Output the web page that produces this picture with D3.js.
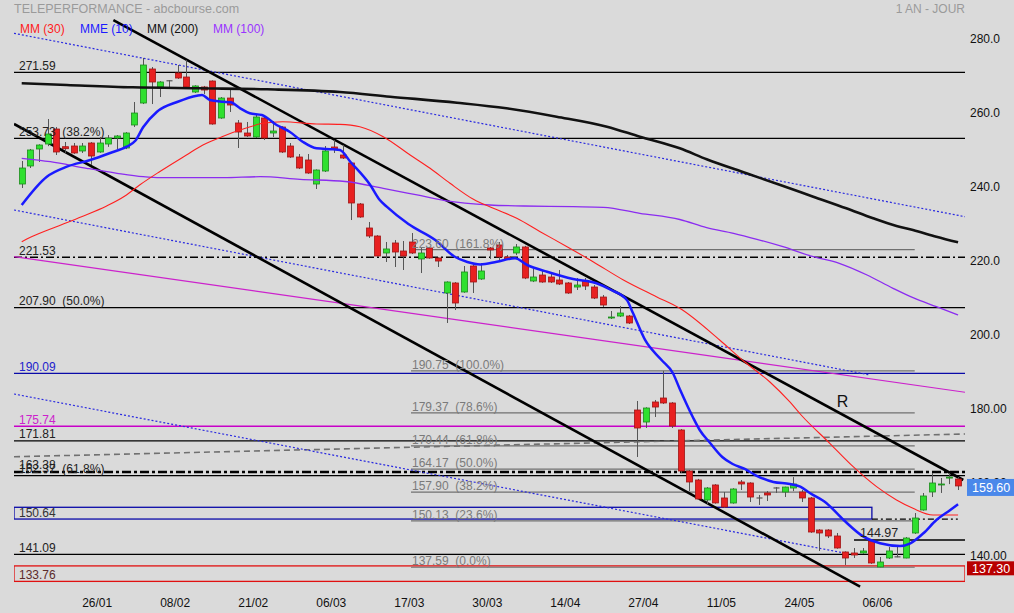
<!DOCTYPE html>
<html><head><meta charset="utf-8">
<script src="https://cdn.jsdelivr.net/npm/d3@7"></script>
<style>
body{margin:0;background:#dadada;}
svg{display:block;font-family:Arial,"Liberation Sans",sans-serif;}
text{white-space:pre;}
</style>
</head><body>
<svg id="c" width="1014" height="613"></svg>
<script>
// ---------- DATA ----------
const tickIndex  = [8,17,26,35,44,53,62,71,80,89,98];
const tickLabels = ["26/01","08/02","21/02","06/03","17/03","30/03","14/04","27/04","11/05","24/05","06/06"];
const axisTicks  = [280,260,240,220,200,180,160,140];
const axisLabels = ["280.0","260.0","240.0","220.0","200.0","180.00","160.00","140.00"];

const open  = [241.35,246.23,250.83,252.18,256.24,251.45,251.64,250.29,252.45,250.02,252.18,253.8,251.1,257.33,263.28,272.49,267.62,269.2,271.41,270.32,266.26,267.62,269.24,259.22,264.63,257.87,255.16,254.08,259.22,255.16,256.78,251.64,248.66,247.85,241.35,244.87,251.37,249.2,247.04,235.94,229.44,227.27,222.67,225.38,223.21,225.65,221.05,224.03,221.32,211.84,214.55,212.11,219.15,215.63,224.03,224.84,221.59,222.67,224.3,215.09,216.71,216.17,215.36,214.55,213.46,215.09,213.46,210.75,205.07,205.61,205.61,180.16,176.91,182.33,183.41,182.06,174.75,163.65,161.21,155.8,159.86,156.34,154.98,160.67,160.4,156.3,157.7,159.0,157.96,159.04,157.96,156.34,147.67,147.67,146.05,141.72,141.45,141.45,144.69,137.66,140.09,140.36,140.09,146.86,153.09,157.96,159.86,161.75,161.48];
const high  = [247.58,250.83,252.1,258.95,256.78,252.72,252.45,252.45,252.7,254.08,254.6,254.6,255.4,263.55,275.47,273.03,269.2,269.5,273.57,274.92,268.1,267.9,269.4,264.9,267.35,258.68,258.14,260.03,260.03,258.4,257.0,252.45,249.47,249.47,245.3,251.64,253.26,251.91,247.3,236.2,231.06,227.5,225.65,226.19,225.92,228.08,224.03,224.3,221.5,215.0,214.8,219.15,219.4,219.96,224.3,225.65,222.13,225.1,224.6,218.34,218.07,217.25,218.07,214.8,215.9,215.9,214.0,211.3,206.96,208.3,205.9,182.6,180.9,182.87,190.75,182.3,175.0,163.9,161.5,159.3,160.1,157.96,159.0,161.21,160.6,157.15,158.23,159.3,159.4,162.0,158.5,156.6,147.9,147.9,146.86,141.9,142.8,142.8,144.97,140.36,143.07,143.34,145.77,152.27,157.69,163.1,161.75,163.1,162.0];
const low   = [240.27,245.68,247.31,251.6,249.2,249.75,249.5,249.75,246.5,249.8,251.4,250.83,250.8,256.78,263.0,263.0,264.9,267.3,269.8,267.4,266.0,265.7,257.4,259.0,260.85,251.1,254.08,253.8,253.26,254.08,249.75,248.4,245.4,244.1,240.0,244.6,249.75,248.12,231.6,232.2,226.73,221.6,220.23,218.88,218.07,222.4,217.25,221.1,218.88,203.72,207.23,211.9,211.84,215.4,221.05,220.23,220.8,222.1,215.6,214.8,214.6,214.55,214.0,211.6,212.65,212.65,210.2,208.05,204.8,205.34,203.45,167.44,175.29,178.27,181.8,175.29,163.1,158.23,155.8,154.7,154.8,153.63,154.8,158.5,155.25,154.45,155.52,157.7,156.6,158.2,155.25,146.9,141.99,145.5,142.6,138.2,140.09,141.2,138.5,137.59,139.82,140.3,140.0,146.6,152.9,156.6,157.7,160.1,158.5];
const close = [245.68,250.56,251.91,254.89,250.02,250.91,249.75,251.64,248.93,252.45,253.8,254.35,255.16,260.57,273.57,268.97,268.97,269.3,270.05,267.62,267.89,266.8,257.6,264.63,262.74,255.43,254.35,259.49,253.8,255.7,250.02,248.66,245.68,244.33,245.14,250.29,250.83,248.39,236.21,232.42,227.27,221.86,223.76,222.94,221.86,222.67,222.67,221.32,220.5,214.82,209.13,217.53,214.82,217.8,223.48,221.59,221.05,224.3,215.9,216.17,214.82,214.82,214.28,211.84,214.0,213.73,210.48,208.59,205.34,206.42,203.72,175.29,180.7,180.97,182.06,175.83,163.65,160.67,156.07,159.04,155.0,153.9,158.77,160.13,156.6,156.34,157.15,159.05,159.3,160.13,156.34,147.13,146.86,146.05,142.8,140.09,140.9,141.99,138.74,139.01,141.99,140.4,145.5,150.92,156.88,160.4,160.13,162.0,159.6];

// moving averages: [day index, value]
const mme10 = [[0,235.67],[2.9,243.33],[5.2,246.04],[7.9,247.85],[10.2,249.75],[12.1,251.45],[13.1,253.05],[14,256.7],[15.6,260.93],[18,263.63],[20.2,265.26],[20.8,265.45],[21.7,264.1],[23.2,263.63],[24.1,263.47],[25.2,261.85],[26.3,260.5],[27.7,260.03],[29.4,257.33],[30.9,255.51],[32.4,252.8],[34,251.02],[35.9,250.75],[36.7,250.56],[37.9,247.39],[40.2,241.08],[41.3,237.02],[42.1,235.21],[44.6,230.5],[47.7,226.19],[49.9,221.72],[51.4,220.23],[52.9,219.56],[54.8,220.3],[56.9,221.23],[58.3,219.42],[60.6,217.6],[63.6,215.63],[66.3,214.47],[68,212.65],[69.8,209.94],[70.5,206.42],[71.9,199.12],[73.8,193.7],[75.1,190.18],[75.9,185.85],[77.4,178.27],[78.2,174.75],[79.4,171.23],[80.8,167.44],[82,165.54],[83.4,164.19],[84.6,162.56],[86.7,160.67],[88.6,160.13],[89.8,159.4],[90.9,157.69],[92.8,154.98],[94.8,150.38],[97.1,145.86],[99,144.07],[101.3,143.34],[102.5,144.07],[104,146.78],[105.5,150.38],[107.1,153.09],[108,154.63]];
const mm30 = [[0,225.73],[1,226.92],[4,229.8],[6.9,232.5],[9.8,235.4],[11.9,238.1],[13.6,241.08],[15.9,244.68],[19,249.2],[20.9,251.91],[23.1,254.16],[25.8,256.42],[27.8,257.78],[30.1,258.22],[34,257.6],[36.7,257.5],[39,256.87],[41.7,254.16],[44.8,249.2],[47.1,245.6],[49.4,241.54],[52.1,237.21],[54.4,234.77],[57.1,232.06],[59.8,228.44],[62.9,224.37],[65.9,220.32],[69.4,215.36],[73.2,210.84],[75.9,207.7],[80.5,199.12],[83.4,193.16],[86.3,187.75],[88.6,182.33],[89.9,178.81],[93.2,171.14],[95.9,164.81],[98.6,159.4],[100.9,155.79],[102.8,153.54],[105.1,151.73],[108,151.73]];
const mm100 = [[0,248.31],[3.3,247.39],[7.5,245.6],[11,244.25],[14,243.33],[16,243.06],[23.3,243.06],[27.5,243.33],[32.1,242.62],[37.3,242.03],[41.7,240.19],[45.6,238.38],[48.8,236.88],[54,235.67],[57.9,235.4],[63.6,235.2],[67.1,235.04],[71.3,233.42],[75.9,231.74],[79,229.52],[82.1,228.0],[84.8,226.38],[87.8,224.38],[91.3,221.67],[94.3,219.88],[97.5,216.71],[100.5,213.11],[102.8,210.57],[105.5,208.13],[108,205.88]];
const mm200 = [[0,268.62],[5.2,268.16],[12.8,267.53],[20.6,267.26],[28.3,266.99],[36.7,266.26],[42.5,264.99],[50.2,263.36],[55.9,261.85],[61.7,259.57],[67.5,256.87],[71.3,254.16],[75.9,251.02],[79,248.04],[83.6,244.25],[87.5,241.08],[91.3,237.92],[95.1,234.77],[98.2,232.06],[100.9,229.98],[102.8,228.89],[105.5,227.08],[108,225.56]];

// horizontal levels (left side)
const levelValues = [271.59,253.73,221.53,207.90,190.09,175.74,171.81,163.38,162.37,141.09];
const levelLabels = ["271.59","253.73  (38.2%)","221.53","207.90  (50.0%)","190.09","175.74","171.81","163.38","162.37  (61.8%)","141.09"];
const zoneBlue = [150.64,153.82]; const zoneBlueLabel = "150.64"; const zoneBlueEnd = 98.06;
const zoneRed  = [133.76,137.95]; const zoneRedLabel  = "133.76";
// fibonacci retracement
const fibValues = [223.60,190.75,179.37,170.44,164.17,157.90,150.13,137.59];
const fibPct    = ["161.8%","100.0%","78.6%","61.8%","50.0%","38.2%","23.6%","0.0%"];
const fibRange  = [44.9,103.0];
// short level
const level14497 = 144.97; const level14497Start = 96.0;
const dashDot15064 = [98.06,107.97];
// trend lines [day index, value]
const trendA = [[10.57,285.75],[108.6,161.21]];
const trendB = [[-0.89,257.6],[96.7,132.32]];
const dotUpper = [[-0.89,282.15],[108.8,232.5]];
const dotMid   = [[-0.89,234.31],[97.84,189.64]];
const dotLow   = [[-0.89,184.5],[95.07,141.36]];
const magentaLine = [[-0.89,221.67],[108.8,184.96]];
const greyDashed  = [[-0.89,167.5],[108.8,173.67]];
const rLabel = {i:94.0, v:182.6, text:"R"};
const lastPrice = 159.60;
const refPrice  = 137.30;

// ---------- DRAW ----------
const W=1014,H=613;
const x = d3.scaleLinear().domain([-0.89,108.8]).range([14,965]);
const y = d3.scaleLinear().domain([130,285]).range([595.27,22.79]);
const svg = d3.select("#c");
svg.append("rect").attr("width",W).attr("height",H).attr("fill","#dadada");

svg.append("defs").append("clipPath").attr("id","plot").append("rect")
  .attr("x",14).attr("y",0).attr("width",951).attr("height",590);
const g = svg.append("g").attr("clip-path","url(#plot)");

// titles
svg.append("text").attr("x",14).attr("y",13).attr("font-size",12.5).attr("fill","#9a9a9a").text("TELEPERFORMANCE - abcbourse.com");
svg.append("text").attr("x",965).attr("y",13).attr("text-anchor","end").attr("font-size",12).attr("fill","#9a9a9a").text("1 AN - JOUR");
const legend = [["MM (30)","#ff1a1a",20],["MME (10)","#1a1aff",80],["MM (200)","#111",147],["MM (100)","#9933ff",213]];
legend.forEach(l=>svg.append("text").attr("x",l[2]).attr("y",33).attr("font-size",12).attr("fill",l[1]).text(l[0]));

const seg = (a,b)=>[[x(a[0]),y(a[1])],[x(b[0]),y(b[1])]];
const L = d3.line();

// zones
g.append("rect").attr("x",14).attr("y",y(zoneBlue[1])).attr("width",x(zoneBlueEnd)-14)
  .attr("height",y(zoneBlue[0])-y(zoneBlue[1])).attr("fill","none").attr("stroke","#0a0aa8").attr("stroke-width",1.3);
g.append("rect").attr("x",14).attr("y",y(zoneRed[1])).attr("width",951)
  .attr("height",y(zoneRed[0])-y(zoneRed[1])).attr("fill","none").attr("stroke","#e01010").attr("stroke-width",1.3);
svg.append("text").attr("x",19).attr("y",y(zoneBlue[0])-2.5).attr("font-size",12).attr("fill","#333").text(zoneBlueLabel);
svg.append("text").attr("x",19).attr("y",y(zoneRed[0])-2.5).attr("font-size",12).attr("fill","#5a2a2a").text(zoneRedLabel);

// fibonacci
fibValues.forEach((v,k)=>{
  g.append("line").attr("x1",x(fibRange[0])).attr("x2",x(fibRange[1])).attr("y1",y(v)).attr("y2",y(v))
    .attr("stroke","#707070").attr("stroke-width",1.2);
  svg.append("text").attr("x",x(fibRange[0])+1).attr("y",y(v)-2).attr("font-size",12).attr("fill","#7a7a7a")
    .text(v.toFixed(2)+"  ("+fibPct[k]+")");
});

// level styles (colour, width, dash)
const levelStyle = [
  ["#000",1.3,null],["#000",1.3,null],["#000",1.5,"8,3,2,3"],["#000",1.3,null],["#0a0aa8",1.3,null],
  ["#c800c8",1.5,null],["#000",1.3,null],["#000",2.3,"9,3,3,3"],["#000",1.3,null],["#000",1.3,null]];
const labelColor = ["#222","#222","#222","#222","#2222cc","#cc22cc","#222","#222","#222","#222"];
levelValues.forEach((v,k)=>{
  const s = levelStyle[k];
  g.append("line").attr("x1",14).attr("x2",965).attr("y1",y(v)).attr("y2",y(v))
    .attr("stroke",s[0]).attr("stroke-width",s[1]).attr("stroke-dasharray",s[2]);
  svg.append("text").attr("x",19).attr("y",y(v)-2.5).attr("font-size",12).attr("fill",labelColor[k]).text(levelLabels[k]);
});
g.append("line").attr("x1",x(dashDot15064[0])).attr("x2",x(dashDot15064[1])).attr("y1",y(zoneBlue[0])).attr("y2",y(zoneBlue[0]))
  .attr("stroke","#000").attr("stroke-width",1.2).attr("stroke-dasharray","6,3,2,3");
g.append("line").attr("x1",x(level14497Start)).attr("x2",965).attr("y1",y(level14497)).attr("y2",y(level14497))
  .attr("stroke","#000").attr("stroke-width",1.3);
svg.append("text").attr("x",x(level14497Start)+6).attr("y",y(level14497)-3).attr("font-size",12.5).attr("fill","#222").text(level14497.toFixed(2));

// trend lines
g.append("path").attr("d",L(seg(...greyDashed))).attr("stroke","#707070").attr("stroke-width",1.6).attr("stroke-dasharray","6,4").attr("fill","none");
g.append("path").attr("d",L(seg(...magentaLine))).attr("stroke","#cc22cc").attr("stroke-width",1.2).attr("fill","none");
[dotUpper,dotMid,dotLow].forEach(t=>g.append("path").attr("d",L(seg(...t))).attr("stroke","#2a2ae0").attr("stroke-width",1.2).attr("stroke-dasharray","2,2").attr("fill","none"));
[trendA,trendB].forEach(t=>g.append("path").attr("d",L(seg(...t))).attr("stroke","#000").attr("stroke-width",2.6).attr("fill","none"));
svg.append("text").attr("x",x(rLabel.i)).attr("y",y(rLabel.v)+6).attr("font-size",16).attr("fill","#111").text(rLabel.text);

// candles
const bw = 6;
const cg = g.append("g");
open.forEach((o,i)=>{
  const c = close[i], cx = Math.round(x(i))+0.5;
  cg.append("line").attr("x1",cx).attr("x2",cx).attr("y1",y(high[i])).attr("y2",y(low[i])).attr("stroke","#555").attr("stroke-width",1);
  if (Math.abs(c-o) < 0.2) {
    cg.append("line").attr("x1",cx-3).attr("x2",cx+3).attr("y1",y(c)).attr("y2",y(c)).attr("stroke","#555").attr("stroke-width",1.2);
  } else {
    const up = c>o;
    cg.append("rect").attr("x",cx-bw/2).attr("y",y(Math.max(o,c))).attr("width",bw)
      .attr("height",Math.max(1,y(Math.min(o,c))-y(Math.max(o,c))))
      .attr("fill",up?"#2fe02f":"#e82020").attr("stroke",up?"#1c8c1c":"#a01515").attr("stroke-width",0.8);
  }
});

// moving averages
const ma = d3.line().x(d=>x(d[0])).y(d=>y(d[1])).curve(d3.curveMonotoneX);
g.append("path").attr("d",ma(mm100)).attr("stroke","#8b2cf0").attr("stroke-width",1.3).attr("fill","none");
g.append("path").attr("d",ma(mm200)).attr("stroke","#111").attr("stroke-width",2.6).attr("fill","none");
g.append("path").attr("d",ma(mm30)).attr("stroke","#ff2020").attr("stroke-width",1.1).attr("fill","none");
g.append("path").attr("d",ma(mme10)).attr("stroke","#1a1aff").attr("stroke-width",2.5).attr("fill","none");

// axes
const ya = svg.append("g").attr("transform","translate(965,0)")
  .call(d3.axisRight(y).tickValues(axisTicks).tickFormat((d,i)=>axisLabels[i]).tickSize(0).tickPadding(5));
ya.select(".domain").remove();
ya.selectAll("text").attr("font-size",12).attr("font-family","Arial, 'Liberation Sans', sans-serif").attr("fill","#111").attr("y",-2.3);

const xa = svg.append("g").attr("transform","translate(5.6,591)")
  .call(d3.axisBottom(x).tickValues(tickIndex).tickFormat((d,i)=>tickLabels[i]).tickSize(0).tickPadding(7));
xa.select(".domain").remove();
xa.selectAll("text").attr("font-size",12).attr("font-family","Arial, 'Liberation Sans', sans-serif").attr("fill","#111");

// price labels
[[lastPrice,"#4a88ea",17,1.5],[refPrice,"#b80000",14,0]].forEach(p=>{
  const cy = y(p[0])+p[3];
  svg.append("rect").attr("x",967).attr("y",cy-p[2]/2).attr("width",47).attr("height",p[2]).attr("fill",p[1]);
  svg.append("text").attr("x",972).attr("y",cy).attr("dy","0.35em").attr("font-size",12.5).attr("fill","#fff").text(p[0].toFixed(2));
});
</script>
</body></html>
